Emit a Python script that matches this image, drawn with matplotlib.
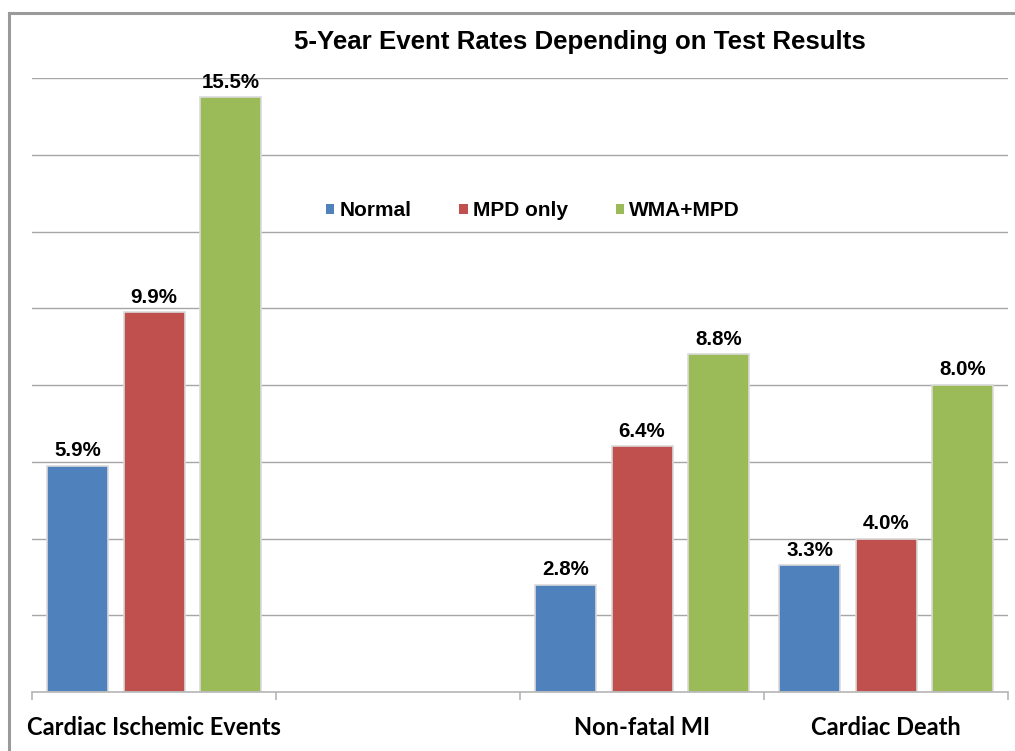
import matplotlib
matplotlib.use("Agg")
import matplotlib.pyplot as plt
import numpy as np
from matplotlib.lines import Line2D
from matplotlib.patches import Patch

categories = ["Cardiac Ischemic Events", "", "Non-fatal MI", "Cardiac Death"]
series_names = ["Normal", "MPD only", "WMA+MPD"]
normal = [5.9, np.nan, 2.8, 3.3]
mpd_only = [9.9, np.nan, 6.4, 4.0]
wma_mpd = [15.5, np.nan, 8.8, 8.0]
colors = ["#4F81BD", "#C0504D", "#9BBB59"]
title = "5-Year Event Rates Depending on Test Results"

W, H = 1015, 751
fig = plt.figure(figsize=(W / 100, H / 100), dpi=100)
fig.patch.set_facecolor("white")

ax = fig.add_axes([32 / W, 1 - 692 / H, (1008 - 32) / W, (692 - 78) / H])
ax.set_facecolor("white")

x = np.arange(len(categories))
step = 0.313
width = 0.25
for i, (vals, c, name) in enumerate(zip([normal, mpd_only, wma_mpd], colors, series_names)):
    b = ax.bar(x + (i - 1) * step, vals, width, color=c, edgecolor="#dadada",
               linewidth=1.2, label=name, zorder=3)
    labels = ["" if np.isnan(v) else f"{v:.1f}%" for v in vals]
    ax.bar_label(b, labels=labels, padding=4, fontsize=14.8, fontweight="bold",
                 family="Liberation Sans", color="black")

ax.set_xlim(-0.5, len(categories) - 0.5)
ax.set_ylim(0, 16)
ax.set_yticks(np.arange(2, 17, 2))
ax.yaxis.set_tick_params(length=0, labelleft=False)
ax.grid(axis="y", color="#a6a6a6", linewidth=1.0, zorder=0)
ax.set_axisbelow(True)
for s in ["top", "right", "left"]:
    ax.spines[s].set_visible(False)
ax.spines["bottom"].set_color("#b5b5b5")
ax.spines["bottom"].set_linewidth(1.2)
ax.spines["bottom"].set_zorder(4)

ax.set_xticks(x)
ax.set_xticklabels(categories, fontsize=17, fontweight="bold", family="Lato")
ax.tick_params(axis="x", which="major", length=0, pad=17.5)
ax.set_xticks(np.arange(-0.5, len(categories), 1), minor=True)
ax.tick_params(axis="x", which="minor", length=6, color="#b5b5b5", width=1.2)

handles = [Patch(facecolor=c, edgecolor="none") for c in colors]
leg = fig.legend(handles, series_names, loc="center", ncol=3, frameon=False,
                 bbox_to_anchor=(533 / W, 1 - 211 / H),
                 prop={"family": "Liberation Sans", "weight": "bold", "size": 15},
                 handlelength=0.4, handleheight=0.4, handletextpad=0.25,
                 columnspacing=2.3)

fig.text(580 / W, 1 - 42 / H, title, ha="center", va="center", fontsize=18.6,
         fontweight="bold", family="Liberation Sans")

# outer frame
fig.add_artist(Line2D([9 / W, 9 / W], [0, 1 - 13 / H], color="#9a9a9a", linewidth=2.2,
                      transform=fig.transFigure))
fig.add_artist(Line2D([9 / W, 1], [1 - 13 / H, 1 - 13 / H], color="#9a9a9a", linewidth=2.2,
                      transform=fig.transFigure))

fig.savefig("out.png", dpi=100, facecolor="white")
